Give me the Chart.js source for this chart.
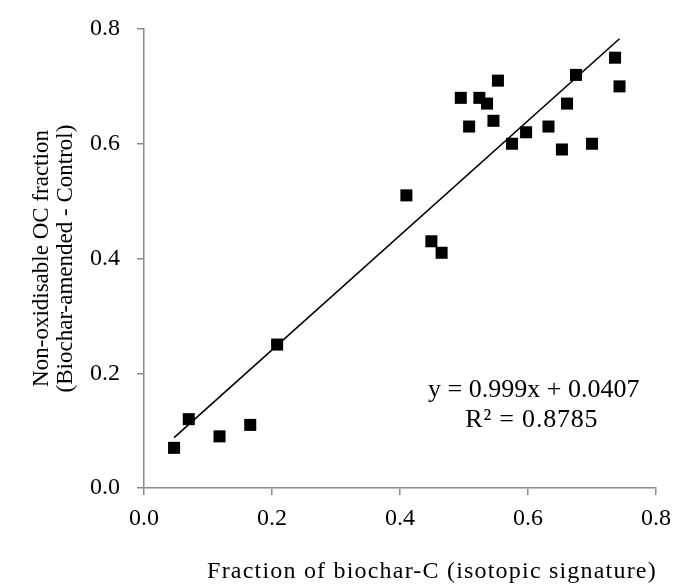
<!DOCTYPE html>
<html>
<head>
<meta charset="utf-8">
<script src="https://cdn.jsdelivr.net/npm/chart.js@4.4.1/dist/chart.umd.min.js"></script>
<style>
  html, body { margin: 0; padding: 0; background: #fff; }
</style>
</head>
<body>
<canvas id="scatterChart" width="673" height="588"></canvas>
<script>
// values
var biocharFraction = [0.047, 0.070, 0.118, 0.166, 0.208, 0.410, 0.449, 0.465, 0.495, 0.508, 0.524, 0.536,
                       0.546, 0.553, 0.575, 0.597, 0.632, 0.653, 0.661, 0.675, 0.700, 0.736, 0.743];
var nonOxFraction   = [0.07, 0.12, 0.09, 0.11, 0.25, 0.51, 0.43, 0.41, 0.68, 0.63, 0.68, 0.67,
                       0.64, 0.71, 0.60, 0.62, 0.63, 0.59, 0.67, 0.72, 0.60, 0.75, 0.70];
var axisTicks = [0.0, 0.2, 0.4, 0.6, 0.8];
var trendSlope = 0.999;
var trendIntercept = 0.0407;
var equationLines = ['y = 0.999x + 0.0407', 'R\u00b2 = 0.8785'];
var xTitle = 'Fraction of biochar-C (isotopic signature)';
var yTitle = ['Non-oxidisable OC fraction', '(Biochar-amended - Control)'];

var serif = '"Liberation Serif", "Times New Roman", serif';
var axisGray = '#8a8a8a';

var points = biocharFraction.map(function (x, i) { return { x: x, y: nonOxFraction[i] }; });
var xMin = Math.min.apply(null, biocharFraction);
var xMax = Math.max.apply(null, biocharFraction);
var trendPoints = [xMin, xMax].map(function (x) { return { x: x, y: trendSlope * x + trendIntercept }; });

// equation label + x title (letter spaced like the original)
var textPlugin = {
  id: 'textPlugin',
  afterDraw: function (chart) {
    var ctx = chart.ctx, xs = chart.scales.x, ys = chart.scales.y;
    ctx.save();
    ctx.fillStyle = '#000';
    ctx.textAlign = 'center';
    ctx.textBaseline = 'middle';
    ctx.font = '26px ' + serif;
    ctx.fillText(equationLines[0], xs.getPixelForValue(0.609), ys.getPixelForValue(0.171));
    ctx.letterSpacing = '0.8px';
    ctx.fillText(equationLines[1], xs.getPixelForValue(0.606), ys.getPixelForValue(0.118));
    ctx.letterSpacing = '1.2px';
    ctx.font = '24px ' + serif;
    ctx.fillText(xTitle, 432, 572);
    ctx.restore();
  }
};

var ctx = document.getElementById('scatterChart').getContext('2d');
var chart = new Chart(ctx, {
  type: 'scatter',
  data: {
    datasets: [{
      label: 'samples',
      data: points,
      pointStyle: 'rect',
      pointRadius: 8.5,
      backgroundColor: '#000',
      borderColor: '#000',
      borderWidth: 0
    }, {
      label: 'trend',
      type: 'line',
      data: trendPoints,
      showLine: true,
      pointRadius: 0,
      borderColor: '#000',
      borderWidth: 1.6,
      fill: false
    }]
  },
  plugins: [textPlugin],
  options: {
    responsive: false,
    animation: false,
    layout: { padding: { top: 29, right: 17, left: 0, bottom: 0 } },
    plugins: { legend: { display: false }, tooltip: { enabled: false } },
    scales: {
      x: {
        type: 'linear',
        min: 0, max: 0.8,
        afterBuildTicks: function (s) { s.ticks = axisTicks.map(function (v) { return { value: v }; }); },
        afterFit: function (s) { s.height = 100; s.paddingLeft = 0; s.paddingRight = 0; },
        ticks: { color: '#000', font: { family: serif, size: 24 }, padding: 9, maxRotation: 0,
                 callback: function (v) { return v.toFixed(1); } },
        grid: { drawOnChartArea: false, drawTicks: true, tickLength: 7, color: axisGray, lineWidth: 1.5 },
        border: { display: true, color: axisGray, width: 1.5 }
      },
      y: {
        type: 'linear',
        min: 0, max: 0.8,
        afterBuildTicks: function (s) { s.ticks = axisTicks.map(function (v) { return { value: v }; }); },
        afterFit: function (s) { s.width = 144; s.paddingTop = 0; s.paddingBottom = 0; },
        ticks: { color: '#000', font: { family: serif, size: 24 }, padding: 17,
                 callback: function (v) { return v.toFixed(1); } },
        grid: { drawOnChartArea: false, drawTicks: true, tickLength: 7, color: axisGray, lineWidth: 1.5 },
        border: { display: true, color: axisGray, width: 1.5 },
        title: { display: true, text: yTitle, color: '#000', font: { family: serif, size: 23, lineHeight: 1.05 },
                 padding: { top: 30, bottom: 0 } }
      }
    }
  }
});
</script>
</body>
</html>
